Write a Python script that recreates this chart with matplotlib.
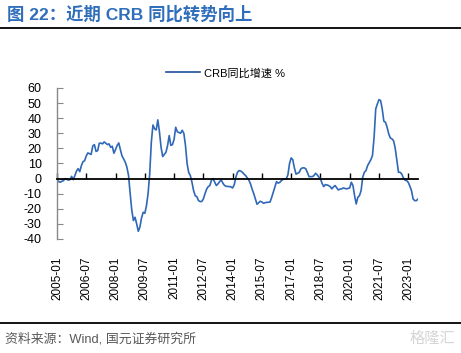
import matplotlib
matplotlib.use("Agg")
import matplotlib.pyplot as plt
import pandas as pd

plt.rcParams['font.family'] = ['Liberation Sans', 'Noto Sans CJK SC', 'DejaVu Sans']

title = "图 22：近期 CRB 同比转势向上"
source = "资料来源：Wind, 国元证券研究所"
series_name = "CRB同比增速 %"

months = pd.date_range("2005-01-01", periods=223, freq="MS").strftime("%Y-%m").tolist()
crb_yoy = [
    -0.7, -2, -2.4, -1.8, -1.3, 0, -0.5, -1, -0.7, 1.5, -0.7, 2,
    5, 6.6, 4.6, 8.6, 11.2, 11.9, 15, 17, 16.5, 16, 21.6, 22.5,
    18, 18.5, 23.4, 23.5, 23, 24.3, 23.5, 22.5, 23, 20.7, 21.4, 16.8,
    19.2, 22, 23.6, 19, 15, 13, 10.8, 7.5, 2, -10, -21, -27.8,
    -25.6, -30, -34.9, -32, -26, -22.3, -23, -18, -10, 3, 24, 35.5,
    33, 32.2, 38.9, 31, 20.7, 14.6, 16, 17.4, 21.9, 28.5, 22, 22.5,
    26, 34, 31, 30.5, 30, 32, 30, 22, 10, 4, 2, -2.4,
    -8, -11.3, -12, -14.5, -15.2, -15.2, -13.5, -10, -7, -5.3, -4.6, -1,
    0, -2.4, -4.6, -3.5, -2, -0.9, -3, -4.5, -5.1, -5.2, -5.3, -5.5,
    -6.2, -4, 1, 4.2, 5.3, 5, 4.2, 3, 2, 0.5, -1, -3.5,
    -7, -10, -13.5, -17, -16, -15, -15.5, -16.3, -16, -15.7, -15.7, -15.5,
    -12.5, -9, -5.7, -2, -3, -2.5, -1.3, -0.5, -0.2, -0.2, 2.5, 10,
    13.7, 12.5, 7, 3, 3.5, 4.2, 6.5, 7.1, 7.1, 6.5, 4, 1.3,
    1.3, 1.3, 2, 3.5, 2.5, 1, 0, -3.1, -5.3, -4, -4.2, -4.6,
    -5.3, -6.8, -5.5, -4.6, -6, -7.5, -7, -6.8, -6.2, -6.5, -6.8, -6.5,
    -6.2, -2.4, -4.6, -11.3, -16.8, -12.4, -11.3, -8, 0.9, 4.2, 5.3, 8.6,
    10.5, 12.5, 15.2, 27.4, 46.1, 49.4, 52.3, 51.7, 46.1, 38, 37.3, 34,
    29.6, 26.9, 26.3, 25, 20, 12, 4.2, 4.2, 3, 0.5, -1, -1.3,
    -2.5, -5, -8, -13.5, -14.6, -14.6, -13.5,
]
tick_step = 18
yticks = list(range(-40, 61, 10))

fig = plt.figure(figsize=(4.61, 3.53), dpi=100)
ax = fig.add_axes([57/461, 1-239/353, 361/461, 151/353])

for s in ['top', 'right']:
    ax.spines[s].set_visible(False)
ax.spines['left'].set_color('#888888')
ax.spines['left'].set_linewidth(1.0)
ax.spines['bottom'].set_position(('data', 0))
ax.spines['bottom'].set_color('black')
ax.spines['bottom'].set_linewidth(1.3)

x = list(range(len(crb_yoy)))
ax.plot(x, crb_yoy, color='#2F68B8', lw=1.2, label=series_name)

ax.set_xlim(0, len(crb_yoy) - 1)
ax.set_ylim(-40, 60)
ax.set_yticks(yticks)
ax.set_yticklabels([str(v) for v in yticks], fontsize=9)

tick_pos = list(range(0, len(months), tick_step))
ax.set_xticks(tick_pos)
ax.set_xticklabels([months[i] for i in tick_pos], rotation=90, fontsize=8.5,
                   va='top', ha='center')

ax.tick_params(axis='y', direction='in', length=4, color='#888888', pad=11)
ax.tick_params(axis='x', direction='in', length=4, width=1.0, color='black', pad=56)

leg = ax.legend(loc='upper center', bbox_to_anchor=(0.5 - 12/361, 1.0 + 30/151), frameon=False,
                handlelength=3.1, handletextpad=0.4,
                prop={'family': ['Liberation Sans', 'Noto Sans CJK SC'], 'size': 8})
leg.get_lines()[0].set_color('#1F4E9A')

fig.text(7/461, 1-14/353, title, fontsize=12.5, fontweight='bold', color='#2F6EBA',
         va='center', ha='left')
fig.add_artist(plt.Line2D([0, 1], [1-28/353, 1-28/353], color='black', lw=1.3))
fig.add_artist(plt.Line2D([0, 1], [1-323/353, 1-323/353], color='black', lw=1.3))
fig.text(5/461, 1-339/353, source, fontsize=9.3, color='#595959', va='center', ha='left')
fig.text(455/461, 1-339/353, "格隆汇", fontsize=11, color='#D5D5D5', va='center', ha='right')

fig.savefig("out.png", dpi=100)
